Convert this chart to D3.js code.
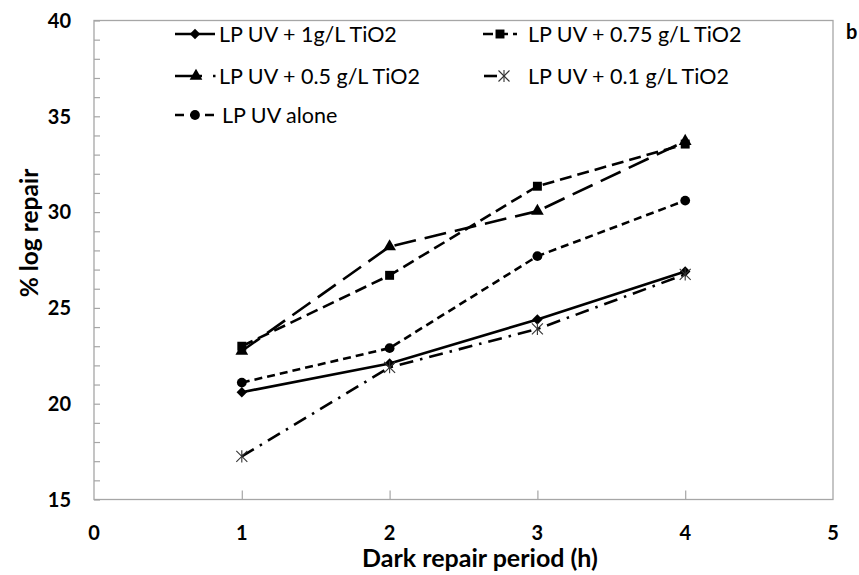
<!DOCTYPE html>
<html>
<head>
<meta charset="utf-8">
<script src="https://cdn.jsdelivr.net/npm/d3@7"></script>
<style>
  html, body { margin: 0; padding: 0; background: #fff; }
  svg { display: block; font-family: Lato, "Open Sans", sans-serif; }
</style>
</head>
<body>
<svg id="chart" width="859" height="575"></svg>
<script>
// Dark repair period (h)
const periods = [1, 2, 3, 4];

// % log repair per treatment
const seriesNames = [
  "LP UV + 1g/L TiO2",
  "LP UV + 0.75 g/L TiO2",
  "LP UV + 0.5 g/L TiO2",
  "LP UV + 0.1 g/L TiO2",
  "LP UV alone"
];
const uv1 = [20.6, 22.1, 24.4, 26.9];
const uv075 = [23.0, 26.7, 31.35, 33.55];
const uv05 = [22.75, 28.2, 30.05, 33.7];
const uv01 = [17.25, 21.9, 23.9, 26.75];
const uvAlone = [21.1, 22.9, 27.7, 30.6];

const xTicks = [0, 1, 2, 3, 4, 5];
const yTicks = [15, 20, 25, 30, 35, 40];

const svg = d3.select("#chart");
const plotLeft = 94, plotRight = 833, plotTop = 20.5, plotBottom = 499.5;

const x = d3.scaleLinear().domain([0, 5]).range([plotLeft, plotRight]);
const y = d3.scaleLinear().domain([15, 40]).range([plotBottom, plotTop]);

const axisColor = "#a6a6a6";

// plot area frame
svg.append("rect")
  .attr("x", plotLeft).attr("y", plotTop)
  .attr("width", plotRight - plotLeft).attr("height", plotBottom - plotTop)
  .attr("fill", "none").attr("stroke", axisColor).attr("stroke-width", 1.3);

// y axis with ticks every unit pointing inward
const yAxis = d3.axisRight(y).tickValues(d3.range(15, 41, 1)).tickSize(6).tickFormat("");
svg.append("g").attr("transform", `translate(${plotLeft},0)`).call(yAxis)
  .call(g => g.select(".domain").remove())
  .call(g => g.selectAll("line").attr("stroke", axisColor).attr("stroke-width", 1.2));

// y tick labels
svg.append("g").selectAll("text").data(yTicks).join("text")
  .attr("x", 71).attr("y", d => y(d)).attr("dy", "0.36em")
  .attr("text-anchor", "end").attr("font-size", 20).attr("font-weight", "bold")
  .attr("fill", "#000").text(d => d);

// x axis ticks pointing up
const xAxis = d3.axisTop(x).tickValues([1, 2, 3, 4]).tickSize(9).tickFormat("");
svg.append("g").attr("transform", `translate(0,${plotBottom})`).call(xAxis)
  .call(g => g.select(".domain").remove())
  .call(g => g.selectAll("line").attr("stroke", axisColor).attr("stroke-width", 1.2));

svg.append("g").selectAll("text").data(xTicks).join("text")
  .attr("x", d => x(d)).attr("y", 540)
  .attr("text-anchor", "middle").attr("font-size", 20).attr("font-weight", "bold")
  .attr("fill", "#000").text(d => d);

// axis titles
svg.append("text")
  .attr("x", 480).attr("y", 567)
  .attr("text-anchor", "middle").attr("font-size", 25).attr("font-weight", "bold")
  .text("Dark repair period (h)");

svg.append("text")
  .attr("transform", "translate(29,233) rotate(-90)")
  .attr("text-anchor", "middle").attr("dy", "0.35em")
  .attr("font-size", 24.5).attr("font-weight", "bold")
  .text("% log repair");

// panel letter
svg.append("text").attr("x", 846).attr("y", 39)
  .attr("font-size", 20).attr("font-weight", "bold").text("b");

// marker shapes
const symbolFor = {
  diamond: d3.symbol().type(d3.symbolDiamond2).size(70),
  square: d3.symbol().type(d3.symbolSquare).size(80),
  triangle: d3.symbol().type(d3.symbolTriangle).size(70),
  circle: d3.symbol().type(d3.symbolCircle).size(75)
};

const series = [
  { name: seriesNames[0], values: uv1, dash: null, marker: "diamond" },
  { name: seriesNames[1], values: uv075, dash: "12,6", marker: "square" },
  { name: seriesNames[2], values: uv05, dash: "22,9", marker: "triangle" },
  { name: seriesNames[3], values: uv01, dash: "14,7,2.5,7", marker: "asterisk" },
  { name: seriesNames[4], values: uvAlone, dash: "8,5", marker: "circle" }
];

function drawMarker(g, type, cx, cy) {
  if (type === "asterisk") {
    const s = 5.5;
    const a = g.append("g").attr("transform", `translate(${cx},${cy})`)
      .attr("stroke", "#333").attr("stroke-width", 1.1).attr("fill", "none");
    a.append("line").attr("x1", -s).attr("y1", -s).attr("x2", s).attr("y2", s);
    a.append("line").attr("x1", -s).attr("y1", s).attr("x2", s).attr("y2", -s);
    a.append("line").attr("x1", 0).attr("y1", -s * 1.1).attr("x2", 0).attr("y2", s * 1.1);
  } else {
    g.append("path").attr("d", symbolFor[type]())
      .attr("transform", `translate(${cx},${cy})`).attr("fill", "#000");
  }
}

const line = d3.line().x((d, i) => x(periods[i])).y(d => y(d));

const plot = svg.append("g");
series.forEach(s => {
  plot.append("path").datum(s.values)
    .attr("d", line).attr("fill", "none").attr("stroke", "#000")
    .attr("stroke-width", 2.6)
    .attr("stroke-dasharray", s.dash);
});
series.forEach(s => {
  s.values.forEach((v, i) => drawMarker(plot, s.marker, x(periods[i]), y(v)));
});

// legend
const legendItems = [
  { s: series[0], lx: 175, lx2: 215, mx: 195, tx: 219, ty: 34, dash: null },
  { s: series[1], lx: 483, lx2: 517, mx: 500, tx: 528, ty: 34, dash: "10,5" },
  { s: series[2], lx: 175, lx2: 217, mx: 196, tx: 219, ty: 76, dash: "27,11,2.5,40" },
  { s: series[3], lx: 484, lx2: 497, mx: 504, tx: 528, ty: 76, dash: null },
  { s: series[4], lx: 175, lx2: 216, mx: 195, tx: 222, ty: 115, dash: "9,6" }
];
const legend = svg.append("g");
legendItems.forEach(it => {
  legend.append("line")
    .attr("x1", it.lx).attr("x2", it.lx2).attr("y1", it.ty).attr("y2", it.ty)
    .attr("stroke", "#000").attr("stroke-width", 2.6)
    .attr("stroke-dasharray", it.dash);
  drawMarker(legend, it.s.marker, it.mx, it.ty);
  legend.append("text").attr("x", it.tx).attr("y", it.ty).attr("dy", "0.35em")
    .attr("font-size", 21.5).attr("fill", "#000").text(it.s.name);
});
</script>
</body>
</html>
